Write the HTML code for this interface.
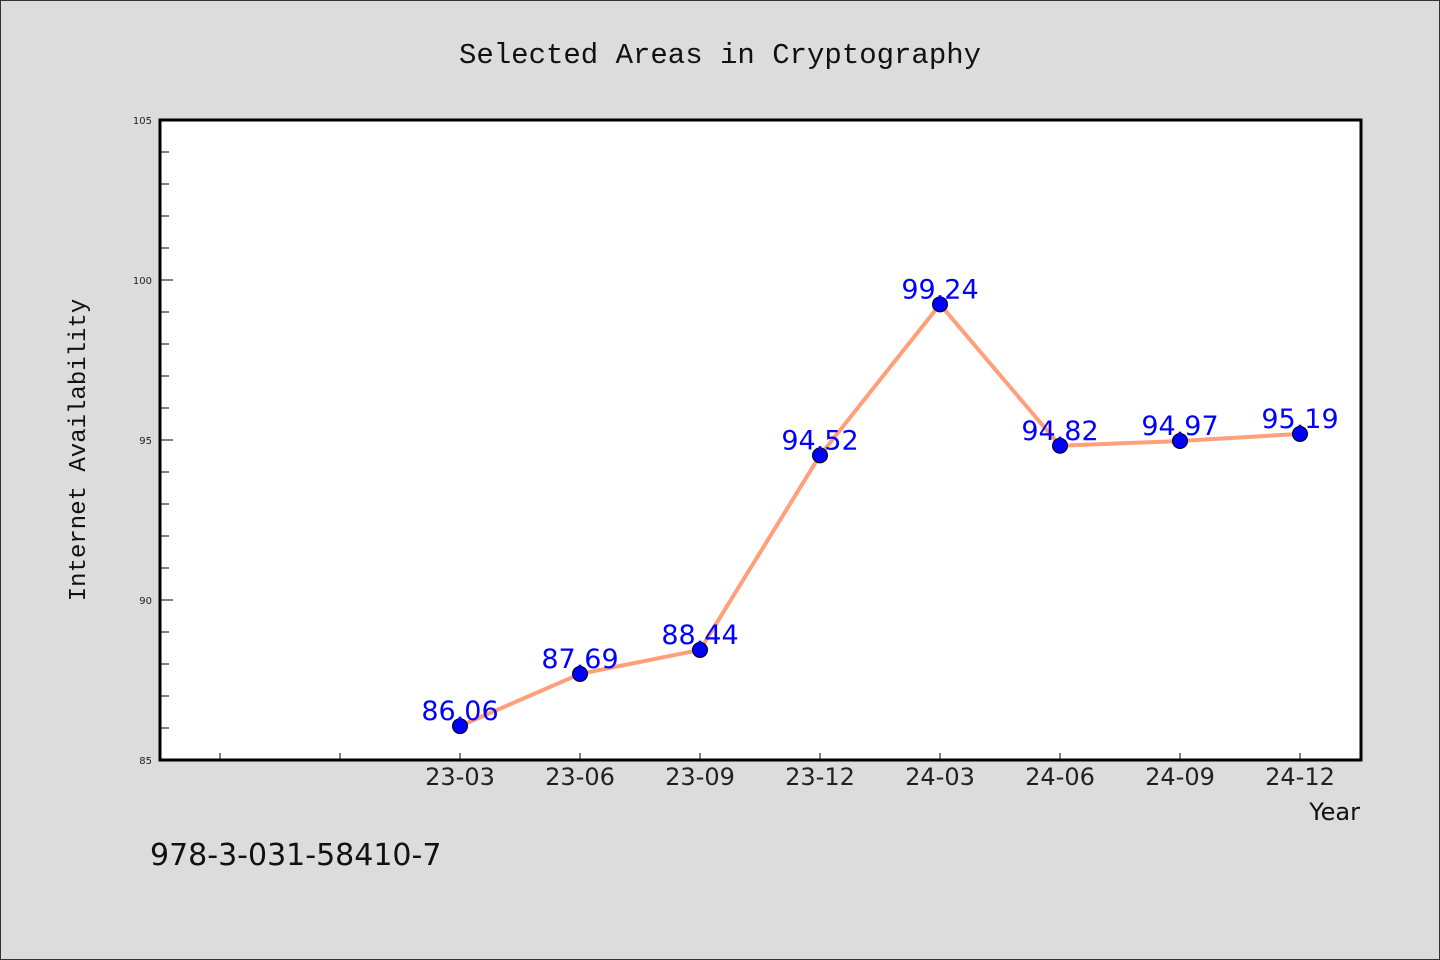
<!DOCTYPE html>
<html><head><meta charset="utf-8"><style>
html,body{margin:0;padding:0;background:#dcdcdc;}
svg{display:block;}
</style></head><body>
<svg id="chart" width="1440" height="960" xmlns="http://www.w3.org/2000/svg">
<rect x="0.5" y="0.5" width="1439" height="959" fill="#dcdcdc" stroke="#333"/>
<text x="720" y="63" text-anchor="middle" font-family="Liberation Mono, monospace" font-size="29" fill="#111">Selected Areas in Cryptography</text>
<rect x="160" y="120" width="1201" height="640" fill="#fff"/>
<g id="axes"></g>
<g id="series"></g>
<rect x="160" y="120" width="1201" height="640" fill="none" stroke="#000" stroke-width="3"/>
<text transform="translate(85,450) rotate(-90)" text-anchor="middle" font-family="Liberation Mono, monospace" font-size="24" fill="#111">Internet Availability</text>
<text x="1360" y="820" text-anchor="end" font-family="WenQuanYi Zen Hei, DejaVu Sans, sans-serif" font-size="24" fill="#111">Year</text>
<text x="150" y="865" font-family="WenQuanYi Zen Hei, DejaVu Sans, sans-serif" font-size="30" fill="#111">978-3-031-58410-7</text>
</svg>
<script>
const categories = ["23-03","23-06","23-09","23-12","24-03","24-06","24-09","24-12"];
const values = [86.06, 87.69, 88.44, 94.52, 99.24, 94.82, 94.97, 95.19];
const labels = ["86.06","87.69","88.44","94.52","99.24","94.82","94.97","95.19"];
const yTicks = [85, 90, 95, 100, 105];
const NS = "http://www.w3.org/2000/svg";
const yMin = 85, yMax = 105, yTop = 120, yBottom = 760, xLeft = 160;
const emptySlots = 2;
function y(v){ return yBottom - (v - yMin) / (yMax - yMin) * (yBottom - yTop); }
function x(i){ return xLeft + 60 + 120 * (i + emptySlots); }
function mk(tag, attrs, parent){ const e = document.createElementNS(NS, tag); for (const k in attrs) e.setAttribute(k, attrs[k]); parent.appendChild(e); return e; }
const axesG = document.getElementById("axes"), seriesG = document.getElementById("series");
for (let v = yMin + 1; v < yMax; v++) {
  const major = (v % 5 === 0);
  const t = mk("line", {x1: xLeft, x2: xLeft + (major ? 13 : 9), y1: y(v), y2: y(v), stroke: "#000", "stroke-width": 1}, axesG);
  
  
}
yTicks.forEach(v => {
  const t = mk("text", {x: xLeft - 8, y: y(v) + 4, "text-anchor": "end", "font-family": "DejaVu Sans, sans-serif", "font-size": 10, fill: "#222"}, axesG);
  t.textContent = v;
  
  
});
for (let i = -emptySlots; i < categories.length; i++) {
  const t = mk("line", {x1: x(i), x2: x(i), y1: yBottom, y2: yBottom - 7, stroke: "#000", "stroke-width": 1}, axesG);
  
  
}
categories.forEach((c, i) => {
  const t = mk("text", {x: x(i), y: yBottom + 25, "text-anchor": "middle", "font-family": "WenQuanYi Zen Hei, DejaVu Sans, sans-serif", "font-size": 24, fill: "#222"}, axesG);
  t.textContent = c;
  
  
});
const pts = values.map((v, i) => x(i) + "," + y(v)).join(" ");
const line = mk("polyline", {points: pts, fill: "none", stroke: "#ffa07a", "stroke-width": 4, "stroke-linejoin": "round"}, seriesG);


values.forEach((v, i) => {
  const c = mk("circle", {cx: x(i), cy: y(v), r: 7.5, fill: "#0000ff", stroke: "#000", "stroke-width": 1}, seriesG);
  
  
  const t = mk("text", {x: x(i), y: y(v) - 6, "text-anchor": "middle", "font-family": "WenQuanYi Zen Hei, DejaVu Sans, sans-serif", "font-size": 27, fill: "#0000ff"}, seriesG);
  t.textContent = labels[i];
  
  
});
</script>
</body></html>
